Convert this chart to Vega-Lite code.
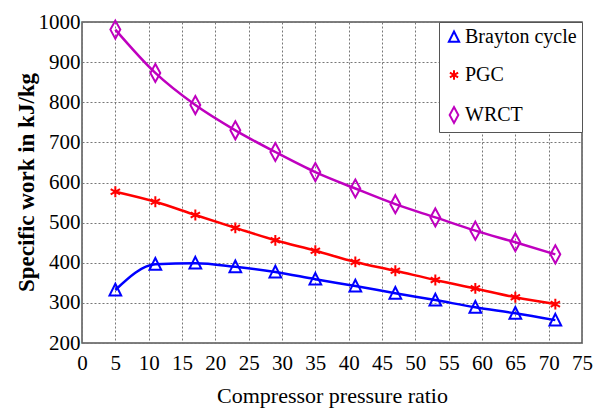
{
  "$schema": "https://vega.github.io/schema/vega-lite/v6.json",
  "width": 500,
  "height": 321,
  "autosize": "none",
  "padding": {"left": 82, "top": 22, "right": 21, "bottom": 65},
  "background": "white",
  "config": {
    "view": {"stroke": "#555", "strokeWidth": 1.5}
  },
  "data": {
    "values": [
      {"ratio": 5, "work": 332, "series": "Brayton cycle"},
      {"ratio": 11, "work": 396, "series": "Brayton cycle"},
      {"ratio": 17, "work": 399, "series": "Brayton cycle"},
      {"ratio": 23, "work": 390, "series": "Brayton cycle"},
      {"ratio": 29, "work": 377, "series": "Brayton cycle"},
      {"ratio": 35, "work": 359, "series": "Brayton cycle"},
      {"ratio": 41, "work": 342, "series": "Brayton cycle"},
      {"ratio": 47, "work": 324, "series": "Brayton cycle"},
      {"ratio": 53, "work": 307, "series": "Brayton cycle"},
      {"ratio": 59, "work": 289, "series": "Brayton cycle"},
      {"ratio": 65, "work": 274, "series": "Brayton cycle"},
      {"ratio": 71, "work": 257, "series": "Brayton cycle"},
      {"ratio": 5, "work": 577, "series": "PGC"},
      {"ratio": 11, "work": 552, "series": "PGC"},
      {"ratio": 17, "work": 519, "series": "PGC"},
      {"ratio": 23, "work": 487, "series": "PGC"},
      {"ratio": 29, "work": 456, "series": "PGC"},
      {"ratio": 35, "work": 430, "series": "PGC"},
      {"ratio": 41, "work": 402, "series": "PGC"},
      {"ratio": 47, "work": 380, "series": "PGC"},
      {"ratio": 53, "work": 357, "series": "PGC"},
      {"ratio": 59, "work": 336, "series": "PGC"},
      {"ratio": 65, "work": 314, "series": "PGC"},
      {"ratio": 71, "work": 297, "series": "PGC"},
      {"ratio": 5, "work": 981, "series": "WRCT"},
      {"ratio": 11, "work": 873, "series": "WRCT"},
      {"ratio": 17, "work": 793, "series": "WRCT"},
      {"ratio": 23, "work": 730, "series": "WRCT"},
      {"ratio": 29, "work": 676, "series": "WRCT"},
      {"ratio": 35, "work": 626, "series": "WRCT"},
      {"ratio": 41, "work": 585, "series": "WRCT"},
      {"ratio": 47, "work": 546, "series": "WRCT"},
      {"ratio": 53, "work": 513, "series": "WRCT"},
      {"ratio": 59, "work": 480, "series": "WRCT"},
      {"ratio": 65, "work": 451, "series": "WRCT"},
      {"ratio": 71, "work": 421, "series": "WRCT"}
    ]
  },
  "encoding": {
    "x": {
      "field": "ratio", "type": "quantitative",
      "scale": {"domain": [0, 75], "nice": false, "zero": false},
      "axis": {
        "title": "Compressor pressure ratio",
        "values": [0,5,10,15,20,25,30,35,40,45,50,55,60,65,70,75],
        "ticks": false, "domain": false, "labelPadding": 9,
        "labelFont": "Liberation Serif", "labelFontWeight": "normal", "titleFont": "Liberation Serif",
        "labelFontSize": 21, "labelColor": "#000", "labelFlush": false,
        "titleFontSize": 22, "titleFontWeight": "normal", "titleColor": "#000",
        "titleY": 52, "titleBaseline": "middle",
        "grid": true, "gridDash": [2, 2], "gridColor": "#777", "gridOpacity": 1
      }
    },
    "y": {
      "field": "work", "type": "quantitative",
      "scale": {"domain": [200, 1000], "nice": false, "zero": false},
      "axis": {
        "title": "Specific work in kJ/kg",
        "values": [200,300,400,500,600,700,800,900,1000],
        "format": "d",
        "ticks": false, "domain": false, "labelPadding": 2,
        "labelFont": "Liberation Serif", "labelFontWeight": "normal", "titleFont": "Liberation Serif",
        "labelFontSize": 21, "labelColor": "#000",
        "titleFontSize": 23, "titleFontWeight": "bold", "titleColor": "#000",
        "titleX": -56, "titleY": 160, "titleBaseline": "middle",
        "grid": true, "gridDash": [2, 2], "gridColor": "#777", "gridOpacity": 1
      }
    },
    "color": {
      "field": "series", "type": "nominal",
      "scale": {"domain": ["Brayton cycle", "PGC", "WRCT"], "range": ["#0000ff", "#ff0000", "#bf00bf"]},
      "legend": {
        "title": null,
        "orient": "none", "legendX": 357, "legendY": 0,
        "fillColor": "white", "strokeColor": "#555", "padding": 5,
        "labelFont": "Liberation Serif", "labelFontWeight": "normal",
        "labelFontSize": 20, "labelColor": "#000", "labelLimit": 200,
        "symbolSize": 250, "symbolStrokeWidth": 2, "rowPadding": 18,
        "labelOffset": 1
      }
    }
  },
  "layer": [
    {
      "mark": {"type": "line", "strokeWidth": 2.5, "interpolate": "monotone"}
    },
    {
      "mark": {"type": "point", "filled": false, "strokeWidth": 2, "size": 324, "opacity": 1},
      "encoding": {
        "shape": {
          "field": "series", "type": "nominal",
          "scale": {"domain": ["Brayton cycle", "PGC", "WRCT"], "range": ["M0,-0.7L0.65,0.6L-0.65,0.6Z", "M0,-0.6L0,0.6M-0.52,-0.3L0.52,0.3M-0.52,0.3L0.52,-0.3", "M0,-1L0.55,0L0,1L-0.55,0Z"]}
        }
      }
    }
  ]
}
